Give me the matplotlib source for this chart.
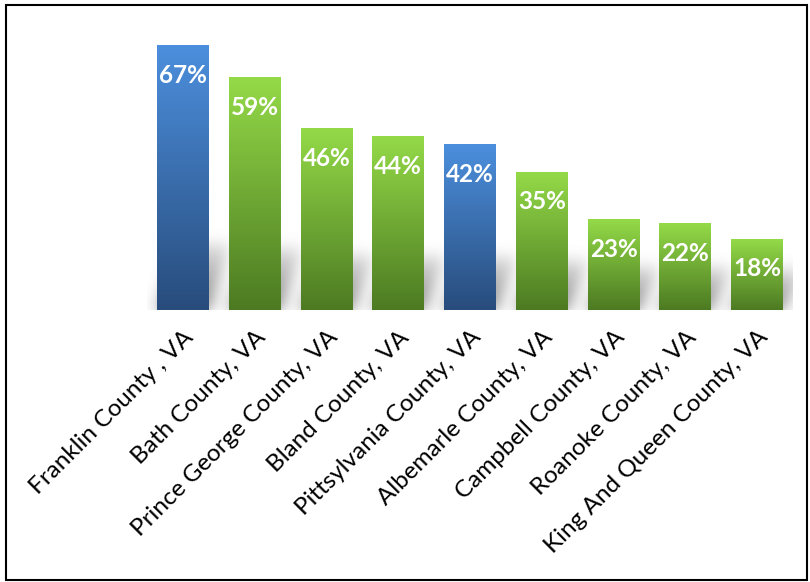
import numpy as np
import matplotlib
matplotlib.use("Agg")
import matplotlib.pyplot as plt
from matplotlib.patches import Rectangle

counties = ["Franklin County , VA", "Bath County, VA", "Prince George County, VA",
            "Bland County, VA", "Pittsylvania County, VA", "Albemarle County, VA",
            "Campbell County, VA", "Roanoke County, VA", "King And Queen County, VA"]
values = [67, 59, 46, 44, 42, 35, 23, 22, 18]
highlight = [True, False, False, False, True, False, False, False, False]

blue_top, blue_bot = "#4C8FDD", "#284C7C"
green_top, green_bot = "#94DA48", "#4C7A22"

fig = plt.figure(figsize=(8.1, 5.82), dpi=100)
ax = fig.add_axes([0.1815, 0.4674, 0.7975, 0.474])

width = 0.72
x = np.arange(len(values))

def hex2rgb(h):
    return np.array(matplotlib.colors.to_rgb(h))

# soft shadow raster
xmin, xmax, ymin, ymax = -0.5, 8.6, -1.5, 30
nx, ny = 1100, 360
gx = np.linspace(xmin, xmax, nx)
gy = np.linspace(ymin, ymax, ny)
GX, GY = np.meshgrid(gx, gy)
mask = np.zeros_like(GX)
for xi, v in zip(x, values):
    hs = 8 + 0.13 * v
    t = np.clip(GY / hs, 0, 1)
    shift = 0.3 * t
    inside = (GY >= -0.3) & (GY <= hs) & (GX >= xi - width / 2 + shift) & (GX <= xi + width / 2 + shift)
    mask = np.maximum(mask, inside * (1 - 0.75 * t))
def blur(a, sigma, axis):
    k = np.arange(-int(3 * sigma), int(3 * sigma) + 1)
    g = np.exp(-k ** 2 / (2 * sigma ** 2)); g /= g.sum()
    return np.apply_along_axis(lambda r: np.convolve(r, g, mode="same"), axis, a)
mask = blur(mask, 13, 1)
mask = blur(mask, 22, 0)
rgba = np.zeros((ny, nx, 4))
rgba[..., :3] = 0.40
rgba[..., 3] = np.clip(mask * 0.85, 0, 1)
ax.imshow(rgba, extent=[xmin, xmax, ymin, ymax], origin="lower", aspect="auto", zorder=1,
          interpolation="bilinear")

for xi, v, hl in zip(x, values, highlight):
    top, bot = (blue_top, blue_bot) if hl else (green_top, green_bot)
    n = 256
    tt = np.linspace(0, 1, n)[:, None]
    col = hex2rgb(bot)[None, :] * (1 - tt) + hex2rgb(top)[None, :] * tt
    img = np.repeat(col[:, None, :], 2, axis=1)
    ax.imshow(img, extent=[xi - width / 2, xi + width / 2, 0, v], origin="lower",
              aspect="auto", zorder=2, interpolation="bilinear")
    ax.text(xi, v - 7.6, f"{v}%", ha="center", va="center", color="white",
            fontsize=17.5, fontweight="bold", family="Lato", zorder=3)

ax.set_xlim(-0.5, 8.5)
ax.set_ylim(0, 70)
ax.set_xticks(x)
ax.set_xticklabels(counties, rotation=45, ha="right", rotation_mode="anchor",
                   fontsize=17.5, family="Lato")
ax.tick_params(axis="x", length=0, pad=12)
ax.set_yticks([])
for s in ax.spines.values():
    s.set_visible(False)

fig.patches.append(Rectangle((0.008, 0.004), 0.988, 0.988, transform=fig.transFigure,
                             fill=False, edgecolor="black", linewidth=1.5))
fig.savefig("out.png", dpi=100)
